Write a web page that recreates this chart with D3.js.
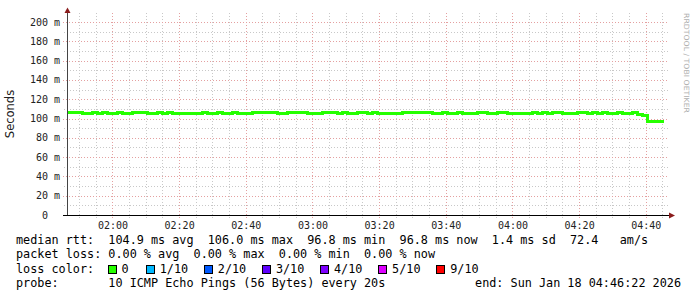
<!DOCTYPE html>
<html>
<head>
<meta charset="utf-8">
<script src="https://cdn.jsdelivr.net/npm/d3@7"></script>
<style>
  body { margin: 0; background: #fff; }
  svg text { white-space: pre; }
</style>
</head>
<body>
<div id="chart"></div>
<script>
// smokeping style rtt graph, last 3 hours
const startTime = new Date(Date.UTC(2026, 0, 18, 1, 46, 22));
const endTime = new Date(Date.UTC(2026, 0, 18, 4, 46, 22));
const stepSeconds = 90;

// median rtt in ms, one value per 90 s step
const medianRtt = [
  105.9, 105.8, 105.9, 104.8, 104.9, 105.9, 104.8, 105.8, 104.8, 104.9,
  105.9, 104.8, 104.8, 105.8, 105.9, 105.8, 104.8, 104.9, 105.9, 104.8,
  105.8, 104.9, 104.8, 104.8, 105.5, 104.8, 104.9, 105.8, 104.8, 104.8,
  105.9, 104.8, 104.9, 105.8, 104.8, 105.5, 104.8, 105.9, 106.0, 105.8,
  105.9, 105.8, 104.8, 104.9, 105.8, 105.9, 105.8, 105.9, 104.8, 105.5,
  104.8, 105.9, 105.8, 105.9, 104.8, 105.8, 104.9, 105.5, 105.9, 105.8,
  104.8, 105.9, 104.8, 105.5, 104.9, 105.5, 104.8, 105.8, 105.9, 105.9,
  105.8, 105.9, 105.8, 104.8, 104.9, 105.9, 105.5, 104.8, 105.8, 104.8,
  105.5, 104.8, 105.9, 105.8, 104.9, 104.8, 105.8, 105.9, 105.5, 104.8,
  105.5, 104.8, 104.9, 105.9, 104.8, 105.8, 104.8, 105.9, 105.8, 104.9,
  105.5, 104.8, 105.9, 105.8, 104.8, 105.8, 104.9, 105.8, 104.8, 105.5,
  105.8, 104.8, 104.9, 105.8, 104.3, 103.6, 96.8, 96.8, 96.9, 96.8
];

const yTicks = [0, 20, 40, 60, 80, 100, 120, 140, 160, 180, 200];
const yTickLabels = ["0  ", "20 m", "40 m", "60 m", "80 m", "100 m", "120 m", "140 m", "160 m", "180 m", "200 m"];
const yMinorTicks = [10, 30, 50, 70, 90, 110, 130, 150, 170, 190];
const xTickLabels = ["02:00", "02:20", "02:40", "03:00", "03:20", "03:40", "04:00", "04:20", "04:40"];

const lossLabels = ["0", "1/10", "2/10", "3/10", "4/10", "5/10", "9/10"];
const lossColors = ["#26ff00", "#00b8ff", "#0059ff", "#5e00ff", "#7e00ff", "#dd00ff", "#ff0000"];

const statLines = [
  "median rtt:  104.9 ms avg  106.0 ms max  96.8 ms min  96.8 ms now  1.4 ms sd  72.4   am/s",
  "packet loss: 0.00 % avg  0.00 % max  0.00 % min  0.00 % now"
];
const probeText = "probe:       10 ICMP Echo Pings (56 Bytes) every 20s";
const endText = "end: Sun Jan 18 04:46:22 2026";

const W = 697, H = 297;
const mono = "'DejaVu Sans Mono', monospace";

const svg = d3.select("#chart").append("svg")
  .attr("width", W).attr("height", H);
svg.append("rect").attr("width", W).attr("height", H).attr("fill", "#fff");

const x = d3.scaleUtc().domain([startTime, endTime]).range([67, 667]);
const y = d3.scaleLinear().domain([0, 200]).range([215, 22]);

const parseTick = s => {
  const p = s.split(":");
  return new Date(Date.UTC(2026, 0, 18, +p[0], +p[1]));
};
const majorTimes = xTickLabels.map(parseTick);
const minorTimes = d3.utcMinute.every(5).range(startTime, endTime)
  .filter(t => t.getUTCMinutes() % 20 !== 0);

// grid
const grid = svg.append("g").attr("shape-rendering", "crispEdges");
grid.selectAll(".vmin").data(minorTimes).join("line")
  .attr("x1", d => Math.round(x(d)) + 0.5).attr("x2", d => Math.round(x(d)) + 0.5)
  .attr("y1", 13).attr("y2", 218)
  .attr("stroke", "#c8c8c8").attr("stroke-dasharray", "1,2");
grid.selectAll(".hmin").data(yMinorTicks).join("line")
  .attr("x1", 64).attr("x2", 668)
  .attr("y1", d => Math.round(y(d)) + 0.5).attr("y2", d => Math.round(y(d)) + 0.5)
  .attr("stroke", "#c8c8c8").attr("stroke-dasharray", "1,2");
grid.selectAll(".vmaj").data(majorTimes).join("line")
  .attr("x1", d => Math.round(x(d)) + 0.5).attr("x2", d => Math.round(x(d)) + 0.5)
  .attr("y1", 13).attr("y2", 218)
  .attr("stroke", "#e4a0a0").attr("stroke-dasharray", "1,2");
grid.selectAll(".hmaj").data(yTicks.slice(1)).join("line")
  .attr("x1", 63).attr("x2", 668)
  .attr("y1", d => Math.round(y(d)) + 0.5).attr("y2", d => Math.round(y(d)) + 0.5)
  .attr("stroke", "#e4a0a0").attr("stroke-dasharray", "1,2");

// median line coloured by loss (all 0 here)
const pts = medianRtt.map((v, i) => ({t: new Date(startTime.getTime() + i * stepSeconds * 1000), v}));
pts.push({t: new Date(startTime.getTime() + medianRtt.length * stepSeconds * 1000 - 3 * 18000), v: medianRtt[medianRtt.length - 1]});
svg.append("path")
  .datum(pts)
  .attr("fill", "none")
  .attr("stroke", lossColors[0])
  .attr("stroke-width", 3)
  .attr("shape-rendering", "crispEdges")
  .attr("d", d3.line().curve(d3.curveStepAfter)
    .x(d => x(d.t))
    .y(d => y(d.v)));

// axes
const ax = svg.append("g").attr("shape-rendering", "crispEdges");
ax.append("line").attr("x1", 67.5).attr("x2", 67.5).attr("y1", 215).attr("y2", 11)
  .attr("stroke", "#444");
ax.append("line").attr("x1", 63).attr("x2", 670).attr("y1", 215.5).attr("y2", 215.5)
  .attr("stroke", "#000");
svg.append("path").attr("d", "M64.5,13 L67.5,7.5 L70.5,13 Z").attr("fill", "#8a1c1c");
svg.append("path").attr("d", "M669,212.5 L675,215.5 L669,218.5 Z").attr("fill", "#8a1c1c");

// y tick labels
svg.append("g").selectAll("text").data(yTicks).join("text")
  .attr("x", 60).attr("y", d => y(d) + 3.5)
  .attr("text-anchor", "end")
  .attr("font-family", mono).attr("font-size", "10px").attr("fill", "#222")
  .text((d, i) => yTickLabels[i]);

// x tick labels
svg.append("g").selectAll("text").data(majorTimes).join("text")
  .attr("x", d => x(d) + 0.5).attr("y", 228.5)
  .attr("text-anchor", "middle")
  .attr("font-family", mono).attr("font-size", "10px").attr("fill", "#222")
  .text((d, i) => xTickLabels[i]);

// axis title + watermark
svg.append("text")
  .attr("transform", "translate(14,114) rotate(-90)")
  .attr("text-anchor", "middle")
  .attr("font-family", "'DejaVu Sans', sans-serif").attr("font-size", "11.5px").attr("fill", "#222")
  .text("Seconds");
svg.append("text")
  .attr("transform", "translate(684,13) rotate(90)")
  .attr("font-family", "'DejaVu Sans', sans-serif").attr("font-size", "7.2px").attr("fill", "#b0b0b0")
  .attr("textLength", 100).attr("lengthAdjust", "spacingAndGlyphs")
  .text("RRDTOOL / TOBI OETIKER");

// legend
const lg = svg.append("g").attr("font-family", mono).attr("font-size", "11.8px").attr("fill", "#000");
lg.selectAll(".stat").data(statLines).join("text")
  .attr("x", 16).attr("y", (d, i) => 244 + i * 14.3)
  .text(d => d);
lg.append("text").attr("x", 16).attr("y", 272.7).text("loss color:");
const boxX = i => i === 0 ? 107.5 : 145.7 + (i - 1) * 58.1;
lg.selectAll(".box").data(lossColors).join("rect")
  .attr("x", (d, i) => Math.round(boxX(i)) + 0.5).attr("y", 265.5)
  .attr("width", 8).attr("height", 8)
  .attr("fill", d => d).attr("stroke", "#000").attr("stroke-width", 1)
  .attr("shape-rendering", "crispEdges");
lg.selectAll(".boxlbl").data(lossLabels).join("text")
  .attr("x", (d, i) => boxX(i) + 14).attr("y", 272.7)
  .text(d => d);
lg.append("text").attr("x", 16).attr("y", 287).text(probeText);
lg.append("text").attr("x", 681).attr("y", 287).attr("text-anchor", "end").text(endText);
</script>
</body>
</html>
